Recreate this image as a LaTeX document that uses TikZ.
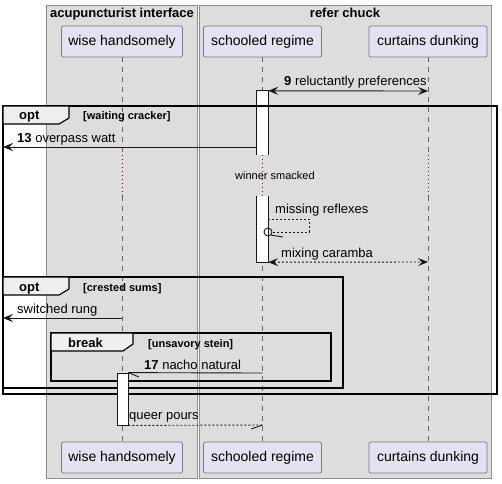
\documentclass[tikz,border=0pt]{standalone}
\usepackage{fontspec}
\setmainfont{Liberation Sans}
\usetikzlibrary{arrows.meta}
\definecolor{grpfill}{HTML}{DDDDDD}
\definecolor{grpline}{HTML}{8C8C8C}
\definecolor{partfill}{HTML}{E2E2F0}
\definecolor{partline}{HTML}{7A7A7A}
\definecolor{tabfill}{HTML}{EEEEEE}
\definecolor{delayred}{HTML}{A80036}
\definecolor{ink}{HTML}{181818}
\begin{document}
\begin{tikzpicture}[x=1pt,y=-1pt,
  grp/.style={draw=grpline, fill=grpfill, line width=0.8pt},
  grptitle/.style={font=\fontsize{13}{15}\selectfont\bfseries, anchor=base, inner sep=0pt},
  part/.style={draw=partline, fill=partfill, rounded corners=2pt, line width=0.7pt, minimum height=31pt, inner sep=0pt, font=\fontsize{14}{16}\selectfont},
  lifeline/.style={draw=gray!80!black, line width=0.6pt, dash pattern=on 5pt off 5pt},
  delayline/.style={draw=delayred, line width=0.8pt, dash pattern=on 1pt off 3pt},
  act/.style={fill=white, minimum width=11pt, inner sep=0pt},
  actline/.style={draw=ink, line width=0.8pt},
  msg/.style={draw=ink, line width=0.9pt},
  dmsg/.style={msg, dash pattern=on 2pt off 2pt},
  tip/.style={-{Stealth[length=10pt, width=8pt, inset=4pt]}},
  dtip/.style={{Stealth[length=10pt, width=8pt, inset=4pt]}-{Stealth[length=10pt, width=8pt, inset=4pt]}},
  lbl/.style={font=\fontsize{13}{15}\selectfont, anchor=base west, inner sep=0pt},
  guard/.style={font=\fontsize{11}{13}\selectfont\bfseries, anchor=base west, inner sep=0pt},
  tabtxt/.style={font=\fontsize{13}{15}\selectfont\bfseries, anchor=base west, inner sep=0pt},
  frame/.style={draw=black, line width=1.5pt},
  tab/.style={draw=black, fill=tabfill, line width=1.2pt}
]
\useasboundingbox[fill=white] (0,0) rectangle (502,483);

% group boxes
\path[grp] (46,5) rectangle (197,478);
\path[grp] (199,5) rectangle (491,478);
\node[grptitle] (g1) at (122,17) {acupuncturist interface};
\node[grptitle] (g2) at (345,17) {refer chuck};

% participants
\node[part, minimum width=121pt] (wt) at (122,41.5) {wise handsomely};
\node[part, minimum width=118pt] (st) at (262.5,41.5) {schooled regime};
\node[part, minimum width=118pt] (ct) at (428,41.5) {curtains dunking};
\node[part, minimum width=121pt] (wb) at (122,457.5) {wise handsomely};
\node[part, minimum width=118pt] (sb) at (262.5,457.5) {schooled regime};
\node[part, minimum width=118pt] (cb) at (428,457.5) {curtains dunking};

% delay coordinates
\coordinate (d1) at (0,155);
\coordinate (d2) at (0,196);

% lifelines
\foreach \t/\b in {wt/wb, st/sb, ct/cb}{
  \draw[lifeline] (\t.south) -- (\t.south |- d1);
  \draw[lifeline] (\b.north |- d2) -- (\b.north);
  \draw[delayline] (\t.south |- d1) -- (\b.north |- d2);
}
\node[font=\fontsize{11}{13}\selectfont, anchor=base west, inner sep=0pt] (delay) at (235,179) {winner smacked};

% activations
\node[act, minimum height=64pt] (a1) at (262.5,123) {};
\draw[actline] (a1.south west) -- (a1.north west) -- (a1.north east) -- (a1.south east);
\node[act, minimum height=66pt] (a2) at (262.5,229) {};
\draw[actline] (a2.north west) -- (a2.south west) -- (a2.south east) -- (a2.north east);

% message 9
\coordinate (c9) at (428,91);
\draw[msg, dtip] (a1.north east) -- (c9);
\node[lbl] (l9) at (284,85) {\textbf{9} reluctantly preferences};

% outer opt frame
\draw[frame] (3,106) rectangle (497,394);
\draw[tab] (3,106) -- (69,106) -- (69,118) -- (59,124) -- (3,124) -- cycle;
\node[tabtxt] (t1) at (19,119) {opt};
\node[guard] (q1) at (83,119) {[waiting cracker]};

% message 13
\coordinate (f13) at (3,147);
\draw[msg, tip] (a1.west |- f13) -- (f13);
\node[lbl] (l13) at (17,142) {\textbf{13} overpass watt};

% self message (lost)
\coordinate (s1) at (309,219);
\coordinate (s2) at (309,232);
\node[circle, draw=ink, fill=none, line width=0.9pt, minimum size=8pt, inner sep=0pt] (lost) at (268,232) {};
\draw[dmsg] (a2.east |- s1) -- (s1) -- (s2) -- (lost.east);
\draw[msg] (lost.south east) -- (283,237);
\node[lbl] (ls) at (275,213) {missing reflexes};

% mixing caramba
\coordinate (c2) at (428,262);
\draw[dmsg, dtip] (a2.south east) -- (c2);
\node[lbl] (lm) at (281,257) {mixing caramba};

% inner opt frame
\draw[frame] (3,277) rectangle (343,388);
\draw[tab] (3,277) -- (69,277) -- (69,289) -- (59,295) -- (3,295) -- cycle;
\node[tabtxt] (t2) at (19,291) {opt};
\node[guard] (q2) at (83,291) {[crested sums]};

% switched rung
\coordinate (f2) at (3,318);
\draw[msg, tip] (wt.south |- f2) -- (f2);
\node[lbl] (lsr) at (17,313) {switched rung};

% break frame
\draw[frame] (51,333) rectangle (331,381);
\draw[tab] (51,333) -- (133,333) -- (133,344) -- (123,351) -- (51,351) -- cycle;
\node[tabtxt] (t3) at (68,347) {break};
\node[guard] (q3) at (148,347) {[unsavory stein]};

% activation on wise handsomely (drawn over frame lines)
\node[act, draw=ink, line width=0.8pt, minimum height=52pt] (a3) at (122.5,399) {};

% message 17
\coordinate (m17) at (262.5,373);
\draw[msg] (m17) -- (a3.north east);
\draw[msg] (a3.north east) -- (139,377);
\node[lbl] (l17) at (144,369) {\textbf{17} nacho natural};

% queer pours
\coordinate (qp) at (262.5,425);
\draw[dmsg] (a3.south east) -- (qp);
\draw[msg] (qp) -- (251,429);
\node[lbl] (lq) at (129,419) {queer pours};
\end{tikzpicture}
\end{document}
